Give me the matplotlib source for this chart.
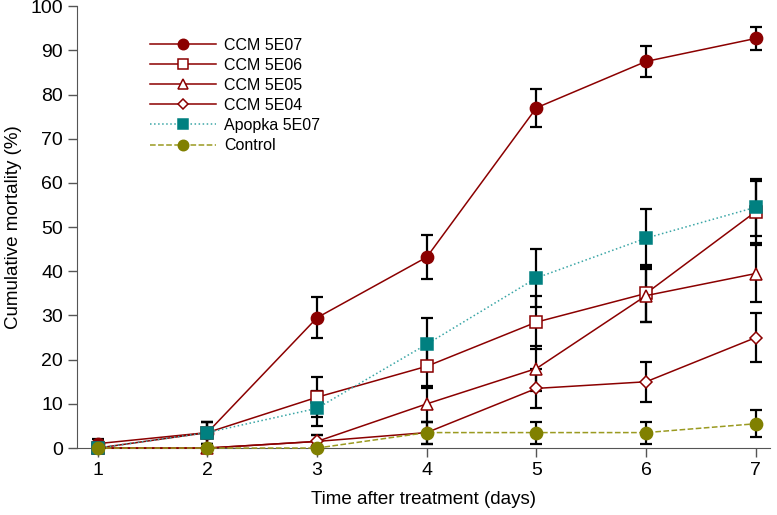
import matplotlib
matplotlib.use("Agg")
import matplotlib.pyplot as plt

plt.rcParams["font.family"] = ["Liberation Sans", "DejaVu Sans"]

days = [1, 2, 3, 4, 5, 6, 7]

ccm_5e07 = [1.0, 3.5, 29.5, 43.2, 77.0, 87.5, 92.7]
ccm_5e07_err = [1.0, 2.5, 4.6, 5.0, 4.3, 3.5, 2.7]
ccm_5e06 = [0.0, 3.5, 11.5, 18.5, 28.5, 35.0, 53.5]
ccm_5e06_err = [0.0, 2.5, 4.5, 5.0, 6.0, 6.5, 7.0]
ccm_5e05 = [0.0, 0.0, 1.5, 10.0, 18.0, 34.5, 39.5]
ccm_5e05_err = [0.0, 0.0, 1.5, 4.0, 5.0, 6.0, 6.5]
ccm_5e04 = [0.0, 0.0, 1.5, 3.5, 13.5, 15.0, 25.0]
ccm_5e04_err = [0.0, 0.0, 1.5, 2.5, 4.5, 4.5, 5.5]
apopka = [0.0, 3.5, 9.0, 23.5, 38.5, 47.5, 54.5]
apopka_err = [0.0, 2.5, 4.0, 6.0, 6.5, 6.5, 6.5]
control = [0.0, 0.0, 0.0, 3.5, 3.5, 3.5, 5.5]
control_err = [0.0, 0.0, 0.0, 2.5, 2.5, 2.5, 3.0]

red = "#8B0000"
teal = "#008080"
olive = "#808000"
axis_grey = "#555555"

fig = plt.figure(figsize=(7.77, 5.15), dpi=100)
ax = fig.add_axes([0.099, 0.130, 0.892, 0.858])

series = [
    ("CCM 5E07", ccm_5e07, ccm_5e07_err, dict(color=red, ls="-", marker="o", mfc=red, mec=red, ms=8.8)),
    ("CCM 5E06", ccm_5e06, ccm_5e06_err, dict(color=red, ls="-", marker="s", mfc="white", mec=red, ms=8.3)),
    ("CCM 5E05", ccm_5e05, ccm_5e05_err, dict(color=red, ls="-", marker="^", mfc="white", mec=red, ms=9)),
    ("CCM 5E04", ccm_5e04, ccm_5e04_err, dict(color=red, ls="-", marker="D", mfc="white", mec=red, ms=6.5)),
    ("Apopka 5E07", apopka, apopka_err, dict(color="#3aa6a6", ls=":", marker="s", mfc=teal, mec=teal, ms=8.3)),
    ("Control", control, control_err, dict(color="#9a9a20", ls="--", marker="o", mfc=olive, mec=olive, ms=8.8)),
]

# error bars sit under the markers
for label, vals, errs, st in series:
    ax.errorbar(days, vals, yerr=errs, fmt="none", ecolor="black",
                elinewidth=1.6, capsize=4.5, capthick=1.6, zorder=2, clip_on=False)
for label, vals, errs, st in series:
    ax.plot(days, vals, lw=1.1, mew=1.1, label=label, zorder=3, clip_on=False, **st)

ax.set_xlim(0.81, 7.13)
ax.set_ylim(0, 100)
ax.set_xticks(days)
ax.set_yticks(range(0, 101, 10))
ax.spines["top"].set_visible(False)
ax.spines["right"].set_visible(False)
for side in ["left", "bottom"]:
    ax.spines[side].set_color(axis_grey)
ax.tick_params(labelsize=14, length=6.5, width=1, color=axis_grey)
ax.set_xlabel("Time after treatment (days)", fontsize=13.5, labelpad=9)
ax.set_ylabel("Cumulative mortality (%)", fontsize=13.5, labelpad=6)

ax.legend(loc="upper left", bbox_to_anchor=(0.175, 0.955), bbox_transform=fig.transFigure,
          frameon=False, fontsize=11.5, numpoints=1, handlelength=4.1, markerscale=0.85,
          labelspacing=0.32, handletextpad=0.5)

fig.savefig("out.png", dpi=100)
